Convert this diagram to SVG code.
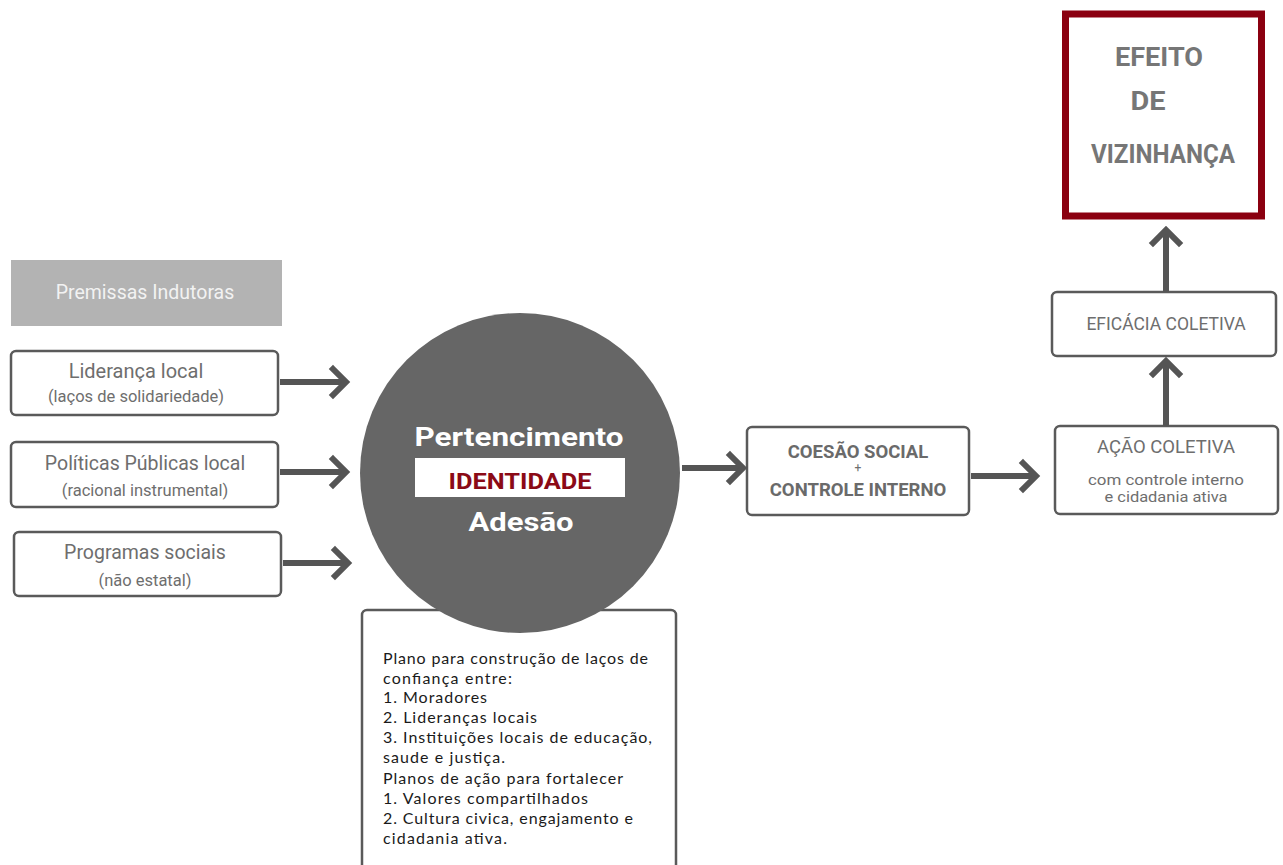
<svg xmlns="http://www.w3.org/2000/svg" width="1283" height="865" viewBox="0 0 1283 865">
<defs>
<style>
.box{fill:#fff;stroke:#5a5a5a;stroke-width:2.5}
.lt{font-family:Roboto,"Liberation Sans",sans-serif;fill:#6e6e6e;text-anchor:middle}
.bd{font-family:Roboto,"Liberation Sans",sans-serif;font-weight:bold;text-anchor:middle}
.cal{font-family:Lato,"Open Sans","Liberation Sans",sans-serif;font-size:16px;fill:#1a1a1a}
.conn{stroke:#555;stroke-width:6;fill:none}
.head{stroke:#555;stroke-width:6;fill:none;stroke-linecap:square;stroke-linejoin:miter}
</style>
</defs>
<rect width="1283" height="865" fill="#fff"/>

<g id="premissas">
<rect x="11" y="260" width="271" height="66" fill="#b3b3b3"/>
<text x="145" y="299" class="lt" font-size="19.5" style="fill:#f2f2f2">Premissas Indutoras</text>
</g>

<g id="lideranca">
<rect x="11" y="351" width="267" height="64" rx="5" class="box"/>
<text x="136" y="378" class="lt" font-size="20">Liderança local</text>
<text x="136" y="402" class="lt" font-size="16.5">(laços de solidariedade)</text>
</g>

<g id="politicas">
<rect x="11" y="442" width="267" height="65" rx="5" class="box"/>
<text x="145" y="470" class="lt" font-size="19.5">Políticas Públicas local</text>
<text x="145" y="496" class="lt" font-size="16.5">(racional instrumental)</text>
</g>

<g id="programas">
<rect x="14" y="532" width="267" height="64" rx="5" class="box"/>
<text x="145" y="559" class="lt" font-size="19.5">Programas sociais</text>
<text x="145" y="586" class="lt" font-size="16.5">(não estatal)</text>
</g>

<g id="planos">
<path d="M362 865 V615 a5 5 0 0 1 5 -5 H671 a5 5 0 0 1 5 5 V865" class="box"/>
<text class="cal" x="383" y="664" textLength="265">Plano para construção de laços de</text>
<text class="cal" x="383" y="684" textLength="129">confiança entre:</text>
<text class="cal" x="383" y="703" textLength="104">1. Moradores</text>
<text class="cal" x="383" y="723" textLength="154">2. Lideranças locais</text>
<text class="cal" x="383" y="743" textLength="269">3. Instituições locais de educação,</text>
<text class="cal" x="383" y="763" textLength="122">saude e justiça.</text>
<text class="cal" x="383" y="784" textLength="240">Planos de ação para fortalecer</text>
<text class="cal" x="383" y="804" textLength="205">1. Valores compartilhados</text>
<text class="cal" x="383" y="824" textLength="250">2. Cultura civica, engajamento e</text>
<text class="cal" x="383" y="844" textLength="124">cidadania ativa.</text>
</g>

<g id="circulo">
<circle cx="520" cy="473" r="160" fill="#666666"/>
<text x="519" y="446" class="bd" font-size="26" fill="#fff" textLength="209" lengthAdjust="spacingAndGlyphs">Pertencimento</text>
<rect x="415" y="458" width="210" height="39" fill="#fff"/>
<text x="520" y="489" class="bd" font-size="22" fill="#8b0a16" textLength="143" lengthAdjust="spacingAndGlyphs">IDENTIDADE</text>
<text x="521" y="531" class="bd" font-size="26" fill="#fff" textLength="105" lengthAdjust="spacingAndGlyphs">Adesão</text>
</g>

<g id="coesao">
<rect x="747" y="427" width="222" height="88" rx="5" class="box"/>
<text x="858" y="458" class="bd" font-size="18.5" fill="#6a6a6a">COESÃO SOCIAL</text>
<text x="858" y="472" class="lt" font-size="12">+</text>
<text x="858" y="496" class="bd" font-size="18.5" fill="#6a6a6a">CONTROLE INTERNO</text>
</g>

<g id="acao">
<rect x="1055" y="426" width="223" height="88" rx="5" class="box"/>
<text x="1166" y="453" class="lt" font-size="18.5">AÇÃO COLETIVA</text>
<text x="1166" y="485" class="lt" font-size="14.5" textLength="156" lengthAdjust="spacingAndGlyphs">com controle interno</text>
<text x="1166" y="502" class="lt" font-size="14.5" textLength="123" lengthAdjust="spacingAndGlyphs">e cidadania ativa</text>
</g>

<g id="eficacia">
<rect x="1052" y="292" width="224" height="64" rx="5" class="box"/>
<text x="1166" y="330" class="lt" font-size="17.5">EFICÁCIA COLETIVA</text>
</g>

<g id="efeito">
<rect x="1065.5" y="14" width="196" height="202" fill="#fff" stroke="#8b0010" stroke-width="7"/>
<text x="1159" y="66" class="bd" font-size="25" fill="#767676" textLength="88" lengthAdjust="spacingAndGlyphs">EFEITO</text>
<text x="1148" y="110" class="bd" font-size="25" fill="#767676" textLength="35" lengthAdjust="spacingAndGlyphs">DE</text>
<text x="1163" y="163" class="bd" font-size="25" fill="#767676" textLength="144" lengthAdjust="spacingAndGlyphs">VIZINHANÇA</text>
</g>

<g id="connectors">
<line x1="280" y1="382" x2="344" y2="382" class="conn"/>
<polyline points="333,369 346,382 333,395" class="head"/>
<line x1="280" y1="472" x2="344" y2="472" class="conn"/>
<polyline points="333,459 346,472 333,485" class="head"/>
<line x1="283" y1="563" x2="346" y2="563" class="conn"/>
<polyline points="335,550 348,563 335,576" class="head"/>
<line x1="682" y1="468" x2="741" y2="468" class="conn"/>
<polyline points="730,455 743,468 730,481" class="head"/>
<line x1="971" y1="476" x2="1034" y2="476" class="conn"/>
<polyline points="1023,463 1036,476 1023,489" class="head"/>
<line x1="1166" y1="426" x2="1166" y2="362" class="conn"/>
<polyline points="1153,374 1166,361 1179,374" class="head"/>
<line x1="1166" y1="292" x2="1166" y2="232" class="conn"/>
<polyline points="1153,243 1166,230 1179,243" class="head"/>
</g>
</svg>
